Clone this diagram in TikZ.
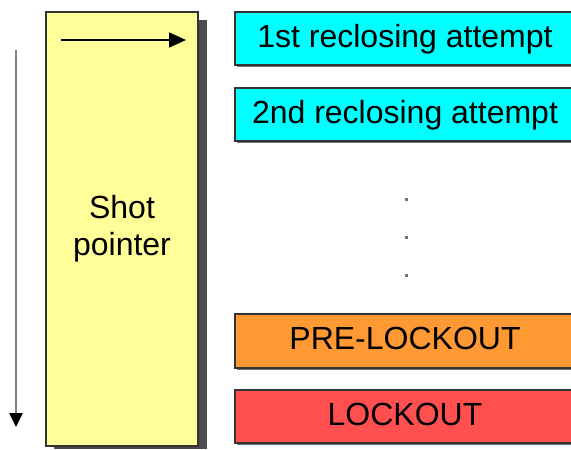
\documentclass[tikz,border=0pt]{standalone}
\usepackage{fontspec}
\setmainfont{Liberation Sans}
\usetikzlibrary{arrows.meta}
\definecolor{ycol}{HTML}{FFFF99}
\definecolor{ccol}{HTML}{00FFFF}
\definecolor{ocol}{HTML}{FF9933}
\definecolor{rcol}{HTML}{FF4F4F}
\definecolor{bcol}{HTML}{333333}
\tikzset{
  bar/.style={draw=bcol, line width=1.2pt, minimum width=340pt, minimum height=53pt,
    inner sep=0pt, text height=17pt, text depth=0pt, font=\fontsize{32}{38}\selectfont},
  barshadow/.style={fill=black!55, draw=none},
  lbl/.style={anchor=base, inner sep=0pt, font=\fontsize{32}{38}\selectfont}
}
\begin{document}
\begin{tikzpicture}[x=1pt,y=-1pt]
\useasboundingbox (0,0) rectangle (571,450);
\clip (0,0) rectangle (571,450);
% yellow shot pointer box
\fill[black!70] (54,20) rectangle (207,449);
\node[draw=bcol, line width=1.2pt, fill=ycol, minimum width=152pt, minimum height=434pt, inner sep=0pt] (sp) at (122,229) {};
\node[lbl] (shot) at (122,218) {Shot};
\node[lbl] (pointer) at (122,255) {pointer};
\coordinate (ia) at (61,40);
\coordinate (ib) at (186,40);
\draw[line width=1.8pt, -{Triangle[width=15pt,length=17pt]}] (ia) -- (ib);
% left arrow
\coordinate (la) at (16,50);
\coordinate (lb) at (16,427);
\draw[line width=2.5pt, gray, -{Triangle[width=13pt,length=14pt,color=black,fill=black]}] (la) -- (lb);
% bars
\fill[barshadow] (237,14) rectangle (577,67);
\node[bar, fill=ccol] (b1) at (405,38.5) {1st reclosing attempt};
\fill[barshadow] (237,90) rectangle (577,143);
\node[bar, fill=ccol] (b2) at (405,114.5) {2nd reclosing attempt};
\fill[barshadow] (237,316) rectangle (577,370);
\node[bar, fill=ocol, minimum height=54pt] (b3) at (405,341) {PRE-LOCKOUT};
\fill[barshadow] (237,392) rectangle (577,445);
\node[bar, fill=rcol] (b4) at (405,416.5) {LOCKOUT};
% dots
\foreach \yy/\nm in {199/d1,237/d2,275/d3}
  \node[fill=black!55, minimum size=3pt, inner sep=0pt] (\nm) at (406,\yy) {};
\end{tikzpicture}
\end{document}
